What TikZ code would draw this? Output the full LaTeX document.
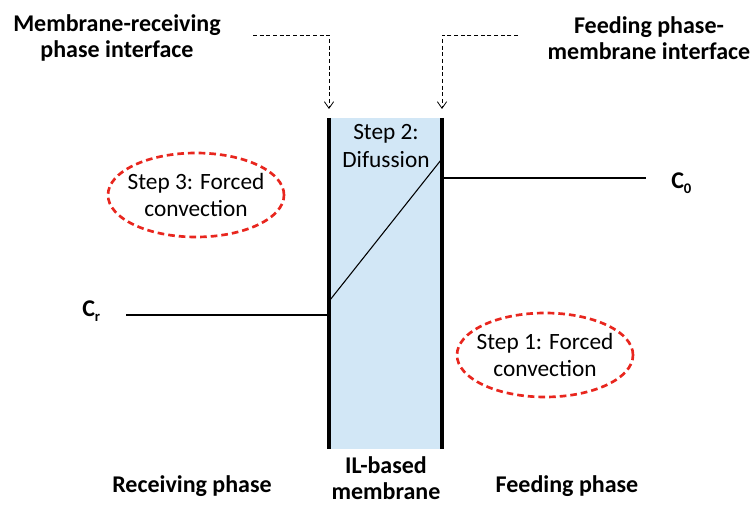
\documentclass[tikz,border=0pt]{standalone}
\usepackage{fontspec}
\setmainfont{Carlito}
\usetikzlibrary{arrows.meta,shapes.geometric}
\definecolor{memblue}{HTML}{D2E7F6}
\definecolor{stepred}{HTML}{E8261E}
\newcommand{\subsc}[1]{\raisebox{-4pt}{\fontsize{11}{11}\selectfont #1}}
\tikzset{
  lbl/.style={font=\bfseries\fontsize{18}{19.5}\selectfont, align=center, inner sep=0pt},
  steptxt/.style={font=\fontsize{17.5}{20.5}\selectfont, align=center, inner sep=0pt},
  stepoval/.style={ellipse, draw=stepred, dashed, line width=2pt, dash pattern=on 5pt off 3pt, minimum width=132pt, minimum height=63pt},
  wall/.style={line width=3pt},
  conc/.style={line width=0.8pt},
  pointer/.style={densely dashed, line width=0.6pt, -{Straight Barb[length=5pt,width=7pt]}},
}
\begin{document}
\begin{tikzpicture}[x=0.75pt,y=-0.75pt]
\useasboundingbox (0,0) rectangle (756,506);
% membrane
\fill[memblue] (329,118) rectangle (442,449);
\coordinate (mtl) at (329,118);
\coordinate (mbl) at (329,449);
\coordinate (mtr) at (442,118);
\coordinate (mbr) at (442,449);
\draw[wall] (mtl) -- (mbl);
\draw[wall] (mtr) -- (mbr);
% concentration profile
\coordinate (c0a) at (442,178);
\coordinate (c0b) at (646,178);
\coordinate (cra) at (126,315);
\coordinate (crb) at (329,315);
\coordinate (da) at (330,300);
\coordinate (db) at (441,160);
\draw[conc] (c0a) -- (c0b);
\draw[conc] (cra) -- (crb);
\draw[conc] (da) -- (db);
\node[lbl, anchor=west] (c0) at (671,183) {C\subsc{0}};
\node[lbl, anchor=west] (cr) at (82,311) {C\subsc{r}};
% interface labels
\node[lbl] (mri) at (117,38) {Membrane-receiving\\phase interface};
\node[lbl] (fmi) at (649,38) {Feeding phase-\\membrane interface};
\coordinate (p1s) at (253,35);
\coordinate (p1c) at (329,35);
\coordinate (p1e) at (329,109);
\coordinate (p2s) at (518,35);
\coordinate (p2c) at (442,35);
\coordinate (p2e) at (442,109);
\draw[pointer] (p1s) -- (p1c) -- (p1e);
\draw[pointer] (p2s) -- (p2c) -- (p2e);
% steps
\node[steptxt] (s2) at (386,146) {Step 2:\\Difussion};
\node[stepoval] (o3) at (196,195) {};
\node[steptxt] (s3) at (o3) {Step 3: Forced\\convection};
\node[stepoval] (o1) at (545,355) {};
\node[steptxt] (s1) at (o1) {Step 1: Forced\\convection};
% phase labels
\node[lbl] (rp) at (192,486) {Receiving phase};
\node[lbl] (ilm) at (386,478) {IL-based\\membrane};
\node[lbl] (fp) at (567,486) {Feeding phase};
\end{tikzpicture}
\end{document}
